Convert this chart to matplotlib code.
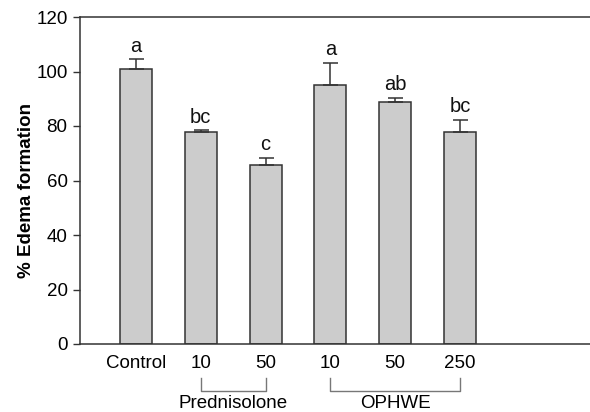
import matplotlib
matplotlib.use("Agg")
import matplotlib.pyplot as plt
import matplotlib.transforms as mtransforms

plt.rcParams['font.family'] = ['Liberation Sans', 'DejaVu Sans']

categories = ["Control", "10", "50", "10", "50", "250"]
values = [100.8, 77.8, 65.7, 95.2, 88.7, 77.9]
errors = [3.7, 0.7, 2.7, 8.0, 1.7, 4.4]
letters = ["a", "bc", "c", "a", "ab", "bc"]
groups = [("Prednisolone", 1, 2), ("OPHWE", 3, 5)]
yticks = [0, 20, 40, 60, 80, 100, 120]

fig = plt.figure(figsize=(5.9, 4.12), dpi=100)
ax = fig.add_axes([80/590, 1-344/412, 1-80/590 + 0.01, (344-17)/412])

x = list(range(len(categories)))
ax.bar(x, values, width=0.495, color="#cccccc", edgecolor="#333333", linewidth=1.1, zorder=2)
ax.errorbar(x, values, yerr=[[0]*len(errors), errors], fmt="none", ecolor="#333333",
            elinewidth=1.1, capsize=5.4, capthick=1.1, zorder=3)
for xi, v, e, l in zip(x, values, errors, letters):
    ax.annotate(l, (xi, v + e), xytext=(0, 2.5), textcoords="offset points",
                ha="center", va="bottom", fontsize=14.5, color="#111111")

ax.set_xlim(-0.866, 7.1)
ax.set_ylim(0, 120)
ax.set_yticks(yticks)
ax.set_xticks(x)
ax.set_xticklabels(categories, fontsize=13.5)
ax.tick_params(axis='x', length=0, pad=8)
ax.tick_params(axis='y', direction='out', length=5, width=1, color="#333333", labelsize=13.5, pad=4)
for s in ["left", "bottom", "top"]:
    ax.spines[s].set_color("#333333")
    ax.spines[s].set_linewidth(1.1)
ax.spines["right"].set_visible(False)
ax.set_ylabel("% Edema formation", fontsize=13.5, fontweight="bold")
ax.yaxis.set_label_coords(-0.088, 0.468)

trans = mtransforms.blended_transform_factory(ax.transData, ax.transAxes)
yb_top = -(378-344)/327
yb_bot = -(391-344)/327
ylab = -(404-344)/327
for name, a, b in groups:
    ax.plot([a, a, b, b], [yb_top, yb_bot, yb_bot, yb_top], color="#777777", lw=1.0,
            transform=trans, clip_on=False)
    ax.text((a+b)/2, ylab, name, transform=trans, ha="center", va="center", fontsize=13.5)

fig.savefig("out.png", dpi=100)
